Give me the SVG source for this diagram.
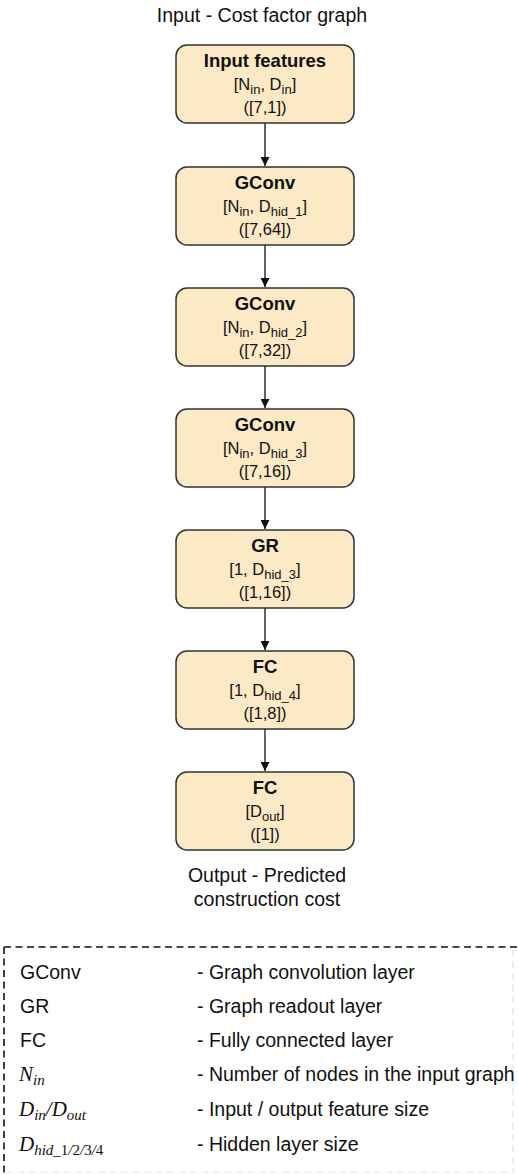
<svg xmlns="http://www.w3.org/2000/svg" width="518" height="1174" viewBox="0 0 518 1174">
  <defs>
    <marker id="arrow" viewBox="0 0 10 10" refX="10" refY="5" markerWidth="9" markerHeight="9" markerUnits="userSpaceOnUse" orient="auto">
      <path d="M0,0 L10,5 L0,10 z" fill="#111"/>
    </marker>
    <style>
      .box { fill: #fce9c6; stroke: #333; stroke-width: 1.5; }
      .ttl { font-family: "Liberation Sans", Arial, sans-serif; font-size: 18.5px; font-weight: bold; fill: #111; text-anchor: middle; }
      .dim { font-family: "Liberation Sans", Arial, sans-serif; font-size: 16.5px; fill: #111; text-anchor: middle; }
      .sub { font-size: 13px; }
      .cap { font-family: "Liberation Sans", Arial, sans-serif; font-size: 19.5px; fill: #111; text-anchor: middle; }
      .lg { font-family: "Liberation Sans", Arial, sans-serif; font-size: 19.5px; fill: #111; }
      .math { font-family: "Liberation Serif", "Times New Roman", serif; font-size: 21px; font-style: italic; fill: #111; }
      .msub { font-size: 15px; }
      .up { font-style: normal; }
      .edge { stroke: #222; stroke-width: 1.4; fill: none; marker-end: url(#arrow); }
      .dash { stroke: #111; stroke-width: 1.6; stroke-dasharray: 7 4.5; fill: none; }
      .faint { stroke: #e3e3e3; stroke-width: 1.2; stroke-dasharray: 7 4.5; fill: none; }
    </style>
  </defs>

  <rect width="518" height="1174" fill="#ffffff"/>

  <!-- captions -->
  <text class="cap" x="262" y="22">Input - Cost factor graph</text>
  <text class="cap" x="267" y="882">Output - Predicted</text>
  <text class="cap" x="267" y="906">construction cost</text>

  <!-- layer nodes -->
  <g id="node-input">
    <rect class="box" x="176" y="45" width="178" height="78" rx="11"/>
    <text class="ttl" x="265" y="67">Input features</text>
    <text class="dim" x="265" y="90">[N<tspan class="sub" dy="4">in</tspan><tspan dy="-4">, D</tspan><tspan class="sub" dy="4">in</tspan><tspan dy="-4">]</tspan></text>
    <text class="dim" x="265" y="113">([7,1])</text>
  </g>

  <g id="node-gconv1">
    <rect class="box" x="176" y="167" width="178" height="78" rx="11"/>
    <text class="ttl" x="265" y="189">GConv</text>
    <text class="dim" x="265" y="212">[N<tspan class="sub" dy="4">in</tspan><tspan dy="-4">, D</tspan><tspan class="sub" dy="4">hid_1</tspan><tspan dy="-4">]</tspan></text>
    <text class="dim" x="265" y="235">([7,64])</text>
  </g>

  <g id="node-gconv2">
    <rect class="box" x="176" y="288" width="178" height="78" rx="11"/>
    <text class="ttl" x="265" y="310">GConv</text>
    <text class="dim" x="265" y="333">[N<tspan class="sub" dy="4">in</tspan><tspan dy="-4">, D</tspan><tspan class="sub" dy="4">hid_2</tspan><tspan dy="-4">]</tspan></text>
    <text class="dim" x="265" y="356">([7,32])</text>
  </g>

  <g id="node-gconv3">
    <rect class="box" x="176" y="409" width="178" height="78" rx="11"/>
    <text class="ttl" x="265" y="431">GConv</text>
    <text class="dim" x="265" y="454">[N<tspan class="sub" dy="4">in</tspan><tspan dy="-4">, D</tspan><tspan class="sub" dy="4">hid_3</tspan><tspan dy="-4">]</tspan></text>
    <text class="dim" x="265" y="477">([7,16])</text>
  </g>

  <g id="node-gr">
    <rect class="box" x="176" y="530" width="178" height="78" rx="11"/>
    <text class="ttl" x="265" y="552">GR</text>
    <text class="dim" x="265" y="575">[1, D<tspan class="sub" dy="4">hid_3</tspan><tspan dy="-4">]</tspan></text>
    <text class="dim" x="265" y="598">([1,16])</text>
  </g>

  <g id="node-fc1">
    <rect class="box" x="176" y="651" width="178" height="78" rx="11"/>
    <text class="ttl" x="265" y="673">FC</text>
    <text class="dim" x="265" y="696">[1, D<tspan class="sub" dy="4">hid_4</tspan><tspan dy="-4">]</tspan></text>
    <text class="dim" x="265" y="719">([1,8])</text>
  </g>

  <g id="node-fc2">
    <rect class="box" x="176" y="772" width="178" height="78" rx="11"/>
    <text class="ttl" x="265" y="794">FC</text>
    <text class="dim" x="265" y="817">[D<tspan class="sub" dy="4">out</tspan><tspan dy="-4">]</tspan></text>
    <text class="dim" x="265" y="840">([1])</text>
  </g>

  <!-- connectors -->
  <g id="connectors">
    <line class="edge" x1="265" y1="123" x2="265" y2="166"/>
    <line class="edge" x1="265" y1="245" x2="265" y2="287"/>
    <line class="edge" x1="265" y1="366" x2="265" y2="408"/>
    <line class="edge" x1="265" y1="487" x2="265" y2="529"/>
    <line class="edge" x1="265" y1="608" x2="265" y2="650"/>
    <line class="edge" x1="265" y1="729" x2="265" y2="771"/>
  </g>

  <!-- legend -->
  <g id="legend">
    <line class="dash" x1="4" y1="947" x2="518" y2="947"/>
    <line class="dash" x1="4" y1="947" x2="4" y2="1174"/>
    <line class="faint" x1="513" y1="950" x2="513" y2="1172"/>
    <line class="faint" x1="6" y1="1172" x2="513" y2="1172"/>

    <text class="lg" x="20" y="979">GConv</text>
    <text class="lg" x="197" y="979">- Graph convolution layer</text>

    <text class="lg" x="20" y="1013">GR</text>
    <text class="lg" x="197" y="1013">- Graph readout layer</text>

    <text class="lg" x="20" y="1047">FC</text>
    <text class="lg" x="197" y="1047">- Fully connected layer</text>

    <text class="math" x="19" y="1081">N<tspan class="msub" dy="4">in</tspan></text>
    <text class="lg" x="197" y="1081">- Number of nodes in the input graph</text>

    <text class="math" x="19" y="1116">D<tspan class="msub" dy="4">in</tspan><tspan dy="-4">/D</tspan><tspan class="msub" dy="4">out</tspan></text>
    <text class="lg" x="197" y="1116">- Input / output feature size</text>

    <text class="math" x="19" y="1151">D<tspan class="msub" dy="4">hid_</tspan><tspan class="msub up">1</tspan><tspan class="msub">/</tspan><tspan class="msub up">2</tspan><tspan class="msub">/</tspan><tspan class="msub up">3</tspan><tspan class="msub">/</tspan><tspan class="msub up">4</tspan></text>
    <text class="lg" x="197" y="1151">- Hidden layer size</text>
  </g>
</svg>
